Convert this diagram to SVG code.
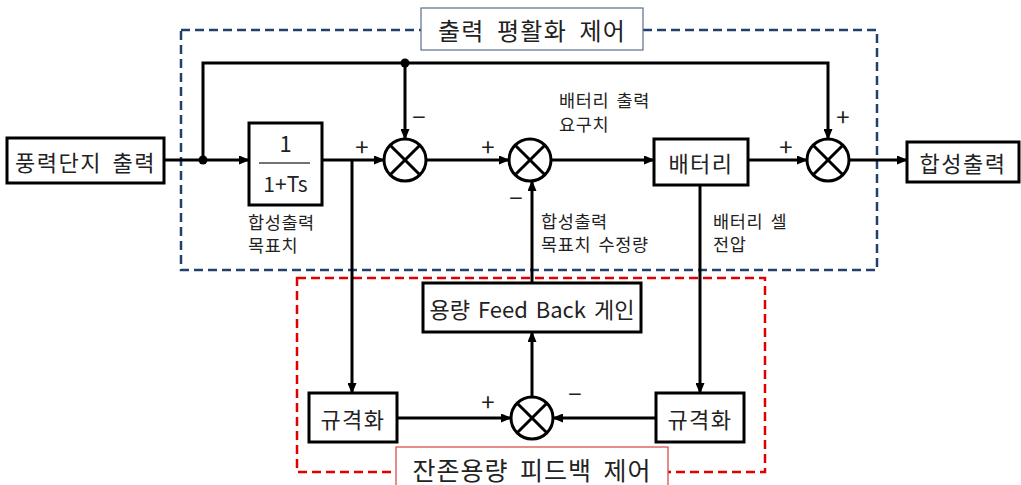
<svg xmlns="http://www.w3.org/2000/svg" width="1021" height="485" viewBox="0 0 1021 485">
<style>
  .blk{fill:#fff;stroke:#000;stroke-width:3}
  .t{font-family:"Noto Sans CJK KR","Noto Sans",sans-serif;fill:#222}
  .big{font-size:22px;letter-spacing:1.5px;word-spacing:4px}
  .sm{font-size:17.5px;letter-spacing:0.6px;word-spacing:3px}
  .sg{font-size:24px;text-anchor:middle}
  .c{text-anchor:middle;dominant-baseline:central}
  .ln{fill:none;stroke:#000;stroke-width:3}
  .arr{marker-end:url(#ah)}
  .sum circle{fill:#fff;stroke:#000;stroke-width:3}
  .sum line{stroke:#000;stroke-width:3}
</style>
<defs>
  <marker id="ah" markerUnits="userSpaceOnUse" markerWidth="11" markerHeight="9" refX="10" refY="4.5" orient="auto">
    <path d="M0,0 L11,4.5 L0,9 z" fill="#000"/>
  </marker>
</defs>

<!-- group frames -->
<g id="smooth-group">
  <rect x="181" y="30" width="696" height="240" fill="none" stroke="#22406e" stroke-width="2.5" stroke-dasharray="9,5"/>
  <rect x="421" y="8" width="222" height="42" fill="#fff" stroke="#5a6f8c" stroke-width="1.2"/>
  <text class="t c" x="532" y="29" font-size="24" letter-spacing="1.2" word-spacing="6">출력 평활화 제어</text>
</g>
<g id="soc-group">
  <rect x="297" y="278" width="468" height="194" fill="none" stroke="#e00000" stroke-width="2.5" stroke-dasharray="9,5"/>
  <rect x="396" y="447" width="272" height="45" fill="#fff" stroke="#d84040" stroke-width="1.2"/>
  <text class="t c" x="532" y="469" font-size="25" letter-spacing="1" word-spacing="5">잔존용량 피드백 제어</text>
</g>

<!-- connectors -->
<g id="connectors">
  <path class="ln arr" d="M164,160 H249"/>
  <path class="ln arr" d="M203,160 V63 H828 V139"/>
  <path class="ln arr" d="M405,63 V139"/>
  <path class="ln arr" d="M322,160 H384"/>
  <path class="ln arr" d="M426,160 H509"/>
  <path class="ln arr" d="M551,160 H654"/>
  <path class="ln arr" d="M748,160 H807"/>
  <path class="ln arr" d="M849,160 H907"/>
  <path class="ln arr" d="M352,160 V393"/>
  <path class="ln arr" d="M700,185 V393"/>
  <path class="ln arr" d="M397,418 H511"/>
  <path class="ln arr" d="M656,418 H553"/>
  <path class="ln arr" d="M532,397 V332"/>
  <path class="ln arr" d="M532,283 V181"/>
  <circle cx="203" cy="160" r="4.5" fill="#000"/>
  <circle cx="405" cy="63" r="4.5" fill="#000"/>
</g>

<!-- nodes -->
<g id="wind-farm">
  <rect class="blk" x="7" y="138" width="157" height="45"/>
  <text class="t big c" x="85.5" y="161">풍력단지 출력</text>
</g>
<g id="filter">
  <rect class="blk" x="249" y="123" width="73" height="82"/>
  <text class="t c" x="285.5" y="142" font-size="22">1</text>
  <line x1="259" y1="163" x2="310" y2="163" stroke="#444" stroke-width="1.5"/>
  <text class="t c" x="285.5" y="183" font-size="21">1+Ts</text>
</g>
<g id="sum1" class="sum">
  <circle cx="405" cy="160" r="21"/>
  <line x1="390.2" y1="145.2" x2="419.8" y2="174.8"/>
  <line x1="419.8" y1="145.2" x2="390.2" y2="174.8"/>
</g>
<g id="sum2" class="sum">
  <circle cx="530" cy="160" r="21"/>
  <line x1="515.2" y1="145.2" x2="544.8" y2="174.8"/>
  <line x1="544.8" y1="145.2" x2="515.2" y2="174.8"/>
</g>
<g id="battery">
  <rect class="blk" x="654" y="139" width="94" height="46"/>
  <text class="t big c" x="701" y="162">배터리</text>
</g>
<g id="sum3" class="sum">
  <circle cx="828" cy="160" r="21"/>
  <line x1="813.2" y1="145.2" x2="842.8" y2="174.8"/>
  <line x1="842.8" y1="145.2" x2="813.2" y2="174.8"/>
</g>
<g id="output">
  <rect class="blk" x="907" y="142" width="112" height="40"/>
  <text class="t big c" x="963" y="162">합성출력</text>
</g>
<g id="fb-gain">
  <rect class="blk" x="423" y="283" width="218" height="49"/>
  <text class="t c" x="532" y="308" font-size="22" word-spacing="3">용량 Feed Back 게인</text>
</g>
<g id="norm-left">
  <rect class="blk" x="309" y="393" width="88" height="49"/>
  <text class="t big c" x="353" y="418" letter-spacing="2.5">규격화</text>
</g>
<g id="sum4" class="sum">
  <circle cx="532" cy="418" r="21"/>
  <line x1="517.2" y1="403.2" x2="546.8" y2="432.8"/>
  <line x1="546.8" y1="403.2" x2="517.2" y2="432.8"/>
</g>
<g id="norm-right">
  <rect class="blk" x="656" y="393" width="88" height="49"/>
  <text class="t big c" x="700" y="418" letter-spacing="2.5">규격화</text>
</g>

<!-- labels -->
<g id="labels">
  <text class="t sm" x="248" y="229">합성출력</text>
  <text class="t sm" x="248" y="252">목표치</text>
  <text class="t sm" x="559" y="107">배터리 출력</text>
  <text class="t sm" x="559" y="131">요구치</text>
  <text class="t sm" x="541" y="228">합성출력</text>
  <text class="t sm" x="541" y="251">목표치 수정량</text>
  <text class="t sm" x="713" y="228">배터리 셀</text>
  <text class="t sm" x="713" y="251">전압</text>
</g>
<g id="signs">
  <text class="t sg" x="362" y="156">+</text>
  <text class="t sg" x="419" y="126">−</text>
  <text class="t sg" x="488" y="156">+</text>
  <text class="t sg" x="516" y="207">−</text>
  <text class="t sg" x="786" y="156">+</text>
  <text class="t sg" x="843" y="126">+</text>
  <text class="t sg" x="488" y="411">+</text>
  <text class="t sg" x="575" y="403">−</text>
</g>
</svg>
